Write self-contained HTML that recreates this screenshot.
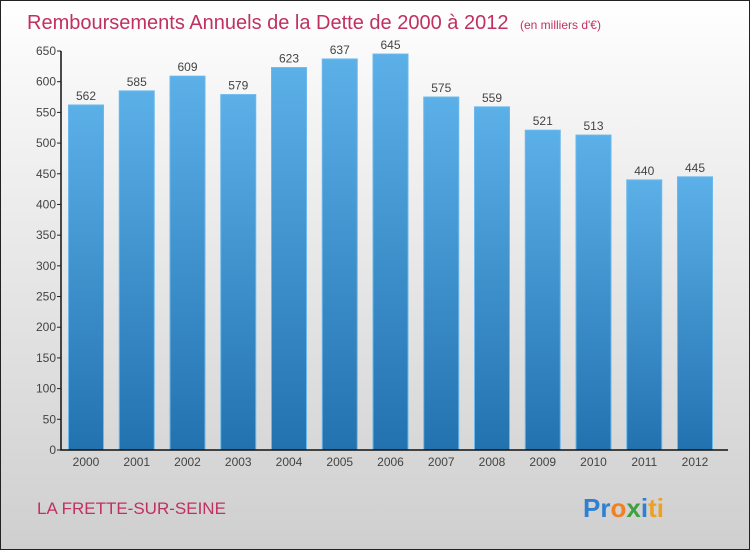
<!DOCTYPE html>
<html><head><meta charset="utf-8"><style>
body{margin:0}
#c{position:relative;width:748px;height:548px;border:1px solid #222;background:linear-gradient(#fff,#f4f4f4 20%,#cfcfcf);font-family:"Liberation Sans",sans-serif;overflow:hidden}
</style></head><body>
<div id="c">
<svg width="748" height="548" id="s">
<defs><linearGradient id="g" x1="0" y1="0" x2="0" y2="1"><stop offset="0" stop-color="#5cb0e8"/><stop offset="1" stop-color="#2272b0"/></linearGradient></defs>
<text x="26" y="28" font-size="20" fill="#c03060">Remboursements Annuels de la Dette de 2000 à 2012 <tspan font-size="12" dx="6">(en milliers d'€)</tspan></text>
<text x="36" y="513" font-size="17" fill="#c03060">LA FRETTE-SUR-SEINE</text>
<text x="582" y="516" font-size="26" font-weight="bold" fill="#f08020"><tspan fill="#3080d0">Pr</tspan><tspan fill="#f08020">o</tspan><tspan fill="#40a040">x</tspan><tspan fill="#3080d0">i</tspan><tspan fill="#f0a020">ti</tspan></text>
</svg>
</div>
<script>
const categories=["2000","2001","2002","2003","2004","2005","2006","2007","2008","2009","2010","2011","2012"];
const values=[562,585,609,579,623,637,645,575,559,521,513,440,445];
const ticks=[0,50,100,150,200,250,300,350,400,450,500,550,600,650];
const NS="http://www.w3.org/2000/svg",s=document.getElementById('s');
const y=v=>449-v*(399/650), x=i=>85+i*50.75;
function el(t,a,txt){const e=document.createElementNS(NS,t);for(const k in a)e.setAttribute(k,a[k]);if(txt!=null)e.textContent=txt;s.appendChild(e);return e;}
values.forEach((v,i)=>{
const b=el('rect',{x:x(i)-17.5,y:y(v),width:35,height:y(0)-y(v),fill:'url(#g)',stroke:'#6ab8ec','stroke-width':1});


const t=el('text',{x:x(i),y:y(v)-5,'text-anchor':'middle','font-size':12,fill:'#444'},v);


const c=el('text',{x:x(i),y:465,'text-anchor':'middle','font-size':12,fill:'#444'},categories[i]);


});
ticks.forEach(v=>{
el('line',{x1:56,x2:60,y1:y(v),y2:y(v),stroke:'#222'});
const t=el('text',{x:55,y:y(v)+4,'text-anchor':'end','font-size':12,fill:'#444'},v);


});
const ax=el('path',{d:'M60 '+y(650)+' V'+y(0)+' H727',stroke:'#111',fill:'none','stroke-width':1.5});


</script>
</body></html>
